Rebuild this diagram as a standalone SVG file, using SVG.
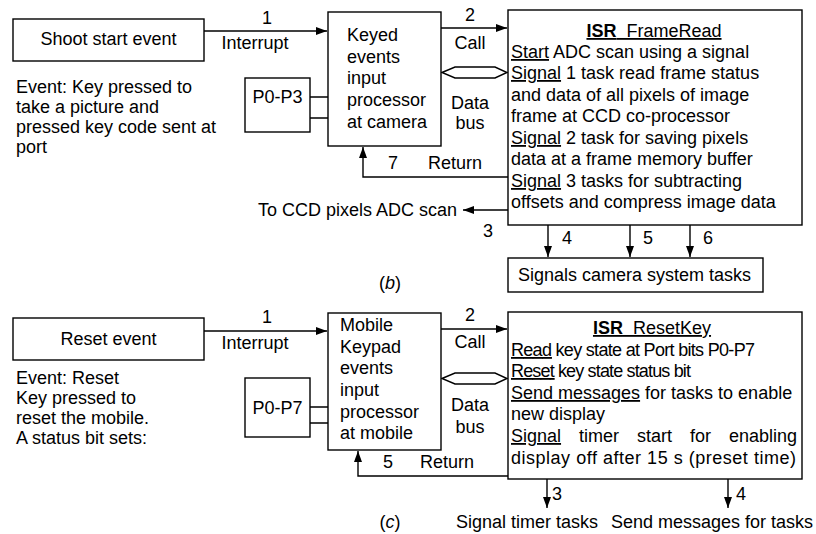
<svg xmlns="http://www.w3.org/2000/svg" width="816" height="534" viewBox="0 0 816 534">
<defs>
<style>
text{font-family:"Liberation Sans",Arial,Helvetica,sans-serif;font-size:18px;fill:#000}
.m{text-anchor:middle}
.e{text-anchor:end}
.u{text-decoration:underline}
.b{font-weight:bold}
.pre{white-space:pre}
.box{fill:#fff;stroke:#000;stroke-width:1.4}
.ln{fill:none;stroke:#000;stroke-width:1.4}
</style>
<marker id="ah" markerWidth="11" markerHeight="8" refX="11" refY="4" orient="auto" markerUnits="userSpaceOnUse">
<path d="M0,0 L11,4 L0,8 z" fill="#000"/>
</marker>
</defs>
<rect width="816" height="534" fill="#fff"/>

<!-- connectors -->
<g id="connectors">
<path class="ln" d="M204,31 H327" marker-end="url(#ah)"/>
<path class="ln" d="M310,97 H328 M310,118 H328"/>
<path class="ln" d="M441,28 H507" marker-end="url(#ah)"/>
<polygon class="box" points="442,72.5 455,67 495,67 507,72.5 495,78 455,78"/>
<path class="ln" d="M508,177 H363 V147" marker-end="url(#ah)"/>
<path class="ln" d="M508,210 H463" marker-end="url(#ah)"/>
<path class="ln" d="M548,225 V257" marker-end="url(#ah)"/>
<path class="ln" d="M630,225 V257" marker-end="url(#ah)"/>
<path class="ln" d="M690,225 V257" marker-end="url(#ah)"/>
<text x="267" y="24" class="m">1</text>
<text x="255" y="49" class="m">Interrupt</text>
<text x="470" y="21" class="m">2</text>
<text x="470" y="49" class="m">Call</text>
<text x="470" y="109" class="m">Data</text>
<text x="470" y="129" class="m">bus</text>
<text x="393" y="169" class="m">7</text>
<text x="455" y="169" class="m">Return</text>
<text x="457" y="216" class="e">To CCD pixels ADC scan</text>
<text x="488" y="237" class="m">3</text>
<text x="567" y="244" class="m">4</text>
<text x="648" y="244" class="m">5</text>
<text x="708" y="244" class="m">6</text>

<path class="ln" d="M204,331 H327" marker-end="url(#ah)"/>
<path class="ln" d="M310,407 H328 M310,423 H328"/>
<path class="ln" d="M441,329 H507" marker-end="url(#ah)"/>
<polygon class="box" points="442,378.5 455,373 495,373 507,378.5 495,384 455,384"/>
<path class="ln" d="M508,476 H358 V451" marker-end="url(#ah)"/>
<path class="ln" d="M547,479 V508" marker-end="url(#ah)"/>
<path class="ln" d="M728,479 V508" marker-end="url(#ah)"/>
<text x="267" y="323" class="m">1</text>
<text x="255" y="349" class="m">Interrupt</text>
<text x="470" y="321" class="m">2</text>
<text x="470" y="348" class="m">Call</text>
<text x="470" y="411" class="m">Data</text>
<text x="470" y="433" class="m">bus</text>
<text x="388" y="468" class="m">5</text>
<text x="447" y="468" class="m">Return</text>
<text x="557" y="500" class="m">3</text>
<text x="741" y="500" class="m">4</text>
</g>

<!-- part b -->
<g id="shoot">
<rect class="box" x="13" y="19" width="191" height="42"/>
<text x="108.5" y="45" class="m">Shoot start event</text>
</g>
<g id="event-b">
<text x="16" y="93">Event: Key pressed to</text>
<text x="16" y="113">take a picture and</text>
<text x="16" y="133">pressed key code sent at</text>
<text x="16" y="153">port</text>
</g>
<g id="p0p3">
<rect class="box" x="245" y="78" width="65" height="54"/>
<text x="277.5" y="103" class="m">P0-P3</text>
</g>
<g id="keyed">
<rect class="box" x="328" y="12" width="113" height="134"/>
<text x="347" y="41">Keyed</text>
<text x="347" y="63">events</text>
<text x="347" y="84">input</text>
<text x="347" y="106">processor</text>
<text x="347" y="128">at camera</text>
</g>
<g id="isr-frameread">
<rect class="box" x="508" y="10" width="294" height="215"/>
<text x="654" y="37" class="m u pre"><tspan class="b">ISR</tspan>  FrameRead</text>
<text x="511" y="58"><tspan class="u">Start</tspan> ADC scan using a signal</text>
<text x="511" y="79"><tspan class="u">Signal</tspan> 1 task read frame status</text>
<text x="511" y="101">and data of all pixels of image</text>
<text x="511" y="122">frame at CCD co-processor</text>
<text x="511" y="144"><tspan class="u">Signal</tspan> 2 task for saving pixels</text>
<text x="511" y="165">data  at a frame memory buffer</text>
<text x="511" y="187"><tspan class="u">Signal</tspan> 3 tasks for subtracting</text>
<text x="511" y="208">offsets and compress image data</text>
</g>
<g id="signals-camera">
<rect class="box" x="508" y="258" width="255" height="34"/>
<text x="518" y="281">Signals camera system tasks</text>
</g>
<text x="390" y="289" class="m">(<tspan font-style="italic">b</tspan>)</text>

<!-- part c -->
<g id="reset">
<rect class="box" x="13" y="318" width="191" height="42"/>
<text x="108.5" y="345" class="m">Reset event</text>
</g>
<g id="event-c">
<text x="16" y="384">Event: Reset</text>
<text x="16" y="404">Key pressed to</text>
<text x="16" y="424">reset the mobile.</text>
<text x="16" y="444">A status bit sets:</text>
</g>
<g id="p0p7">
<rect class="box" x="245" y="378" width="65" height="59"/>
<text x="277.5" y="414" class="m">P0-P7</text>
</g>
<g id="mobile">
<rect class="box" x="328" y="313" width="113" height="137"/>
<text x="340" y="331">Mobile</text>
<text x="340" y="353">Keypad</text>
<text x="340" y="374">events</text>
<text x="340" y="396">input</text>
<text x="340" y="418">processor</text>
<text x="340" y="439">at mobile</text>
</g>
<g id="isr-resetkey">
<rect class="box" x="508" y="312" width="294" height="167"/>
<text x="652" y="334" class="m u pre"><tspan class="b">ISR</tspan>  ResetKey</text>
<text x="511" y="356" textLength="244" lengthAdjust="spacing"><tspan class="u">Read</tspan> key state at Port bits P0-P7</text>
<text x="511" y="377" textLength="180" lengthAdjust="spacing"><tspan class="u">Reset</tspan> key state status bit</text>
<text x="511" y="399"><tspan class="u">Send messages</tspan> for tasks to enable</text>
<text x="511" y="420">new display</text>
<text x="511" y="442" style="word-spacing:13px"><tspan class="u">Signal</tspan> timer start for enabling</text>
<text x="511" y="464" textLength="285" lengthAdjust="spacing">display off after 15 s (preset time)</text>
</g>
<text x="527" y="528" class="m">Signal timer tasks</text>
<text x="813" y="528" class="e">Send messages for tasks</text>
<text x="390" y="528" class="m">(<tspan font-style="italic">c</tspan>)</text>
</svg>
